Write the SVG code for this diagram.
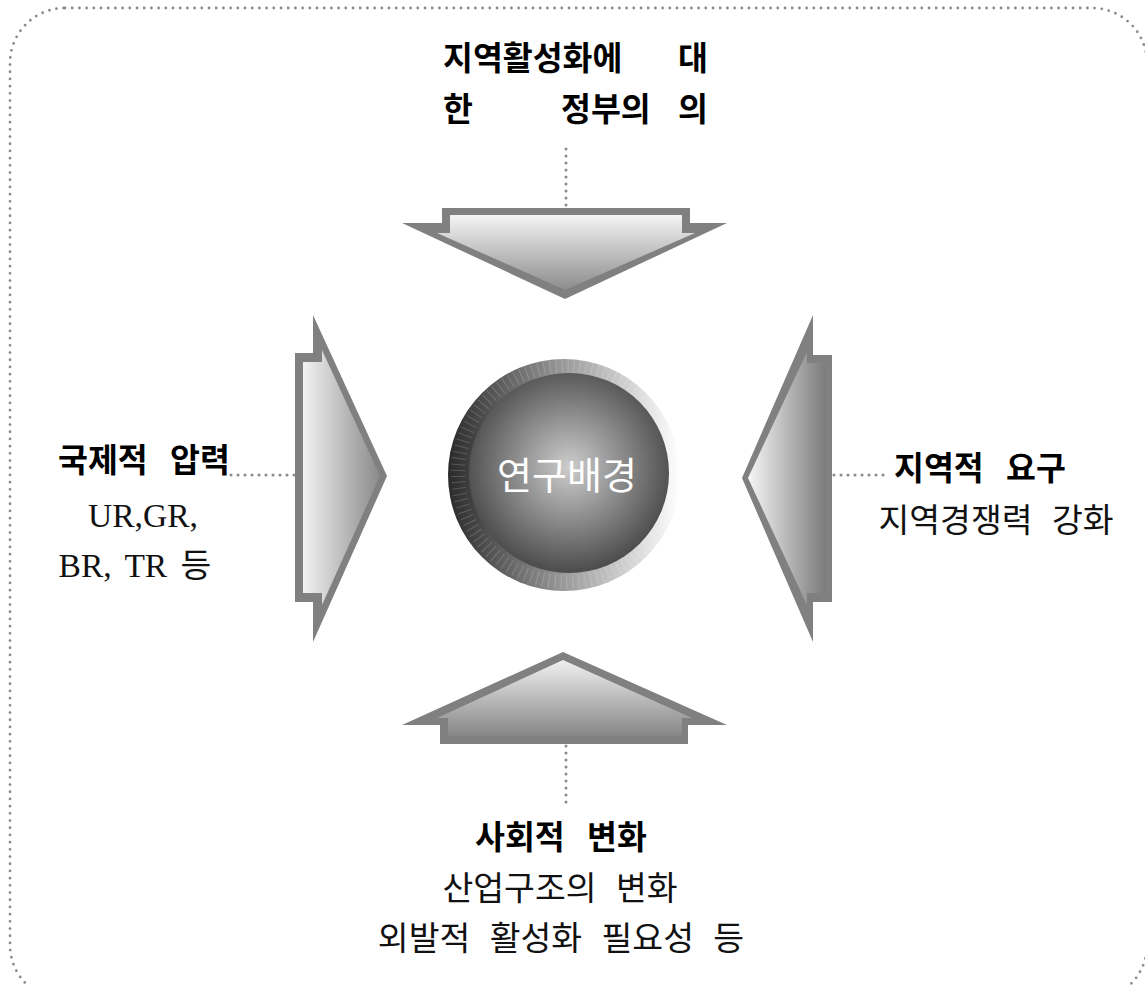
<svg xmlns="http://www.w3.org/2000/svg" width="1145" height="985" viewBox="0 0 1145 985">
<style>
.frame{fill:none;stroke:#8a8a8a;stroke-width:2.8;stroke-linecap:round;stroke-dasharray:0 7.2}
.dot{fill:none;stroke:#8a8a8a;stroke-width:3;stroke-linecap:round;stroke-dasharray:0 7}
.border{fill:#808080}
.b{font-family:"Noto Sans CJK KR","Liberation Sans",sans-serif;font-weight:700;font-size:32.5px;fill:#000}
.r{font-family:"Liberation Serif","Noto Sans CJK KR",serif;font-weight:400;font-size:33.5px;fill:#111}
.c{font-family:"Noto Sans CJK KR","Liberation Sans",sans-serif;font-weight:400;font-size:38px;fill:#fff}
</style>
<defs>
<linearGradient id="gDown" x1="0" y1="0" x2="0" y2="1"><stop offset="0" stop-color="#f4f4f4"/><stop offset="1" stop-color="#8c8c8c"/></linearGradient>
<linearGradient id="gUp" x1="0" y1="0" x2="0" y2="1"><stop offset="0" stop-color="#f0f0f0"/><stop offset="1" stop-color="#868686"/></linearGradient>
<linearGradient id="gRight" x1="0" y1="0" x2="1" y2="0"><stop offset="0" stop-color="#f2f2f2"/><stop offset="1" stop-color="#8a8a8a"/></linearGradient>
<linearGradient id="gLeft" x1="0" y1="0" x2="1" y2="0"><stop offset="0" stop-color="#f6f6f6"/><stop offset="1" stop-color="#7c7c7c"/></linearGradient>
<linearGradient id="gRing" x1="0" y1="0" x2="1" y2="0"><stop offset="0" stop-color="#2a2a2a"/><stop offset="0.5" stop-color="#9a9a9a"/><stop offset="1" stop-color="#ffffff"/></linearGradient>
<radialGradient id="gDisc" cx="0.5" cy="0.47" r="0.52"><stop offset="0" stop-color="#cdcdcd"/><stop offset="1" stop-color="#4e4e4e"/></radialGradient>
</defs>
<rect class="frame" x="10" y="8" width="1137" height="992" rx="55" ry="55"/>
<g id="connectors">
<line class="dot" x1="566" y1="149" x2="566" y2="208"/>
<line class="dot" x1="566" y1="746" x2="566" y2="804"/>
<line class="dot" x1="231" y1="475" x2="295" y2="475"/>
<line class="dot" x1="834" y1="475" x2="890" y2="475"/>
</g>
<g id="arrow-top">
<polygon class="border" points="442,208 690,208 690,223 727,223 565,299 402,223 442,223"/>
<polygon fill="url(#gDown)" points="450,215 682,215 682,233 695,233 565,290 437,233 450,233"/>
</g>
<g id="arrow-bottom">
<polygon class="border" points="563,652 727,725 688,725 688,744 440,744 440,725 402,725"/>
<polygon fill="url(#gUp)" points="563,660 692,718 682,718 682,736 448,736 448,718 437,718"/>
</g>
<g id="arrow-left">
<polygon class="border" points="295,353 313,353 313,315 387,476 313,642 313,602 295,602"/>
<polygon fill="url(#gRight)" points="303,362 322,362 322,350 380,476 322,605 322,593 303,593"/>
</g>
<g id="arrow-right">
<polygon class="border" points="832,355 813,355 813,315 742,478 813,642 813,602 832,602"/>
<polygon fill="url(#gLeft)" points="825,363 807,363 807,352 748,478 807,605 807,593 825,593"/>
</g>
<g id="center">
<circle cx="564" cy="475" r="116" fill="url(#gRing)"/>
<circle cx="566" cy="474" r="108" fill="none" stroke="#ffffff" stroke-opacity="0.18" stroke-width="14" stroke-dasharray="1 5"/>
<circle cx="569" cy="473" r="100" fill="url(#gDisc)"/>
<text class="c" x="567" y="489" text-anchor="middle">연구배경</text>
</g>
<g id="label-top">
<text class="b" x="443" y="70">지역활성화에</text>
<text class="b" x="678" y="70">대</text>
<text class="b" x="443" y="121">한</text>
<text class="b" x="561" y="121">정부의</text>
<text class="b" x="678" y="121">의</text>
</g>
<g id="label-left">
<text class="b" x="144" y="472" text-anchor="middle" word-spacing="15">국제적 압력</text>
<text class="r" x="143" y="527" text-anchor="middle">UR,GR,</text>
<text class="r" x="135" y="577" text-anchor="middle" word-spacing="5">BR, TR 등</text>
</g>
<g id="label-right">
<text class="b" x="980" y="480" text-anchor="middle" word-spacing="15">지역적 요구</text>
<text class="r" x="996" y="532" text-anchor="middle" word-spacing="11">지역경쟁력 강화</text>
</g>
<g id="label-bottom">
<text class="b" x="561" y="849" text-anchor="middle" word-spacing="15">사회적 변화</text>
<text class="r" x="560" y="900" text-anchor="middle" word-spacing="11">산업구조의 변화</text>
<text class="r" x="561" y="950" text-anchor="middle" word-spacing="11">외발적 활성화 필요성 등</text>
</g>
</svg>
